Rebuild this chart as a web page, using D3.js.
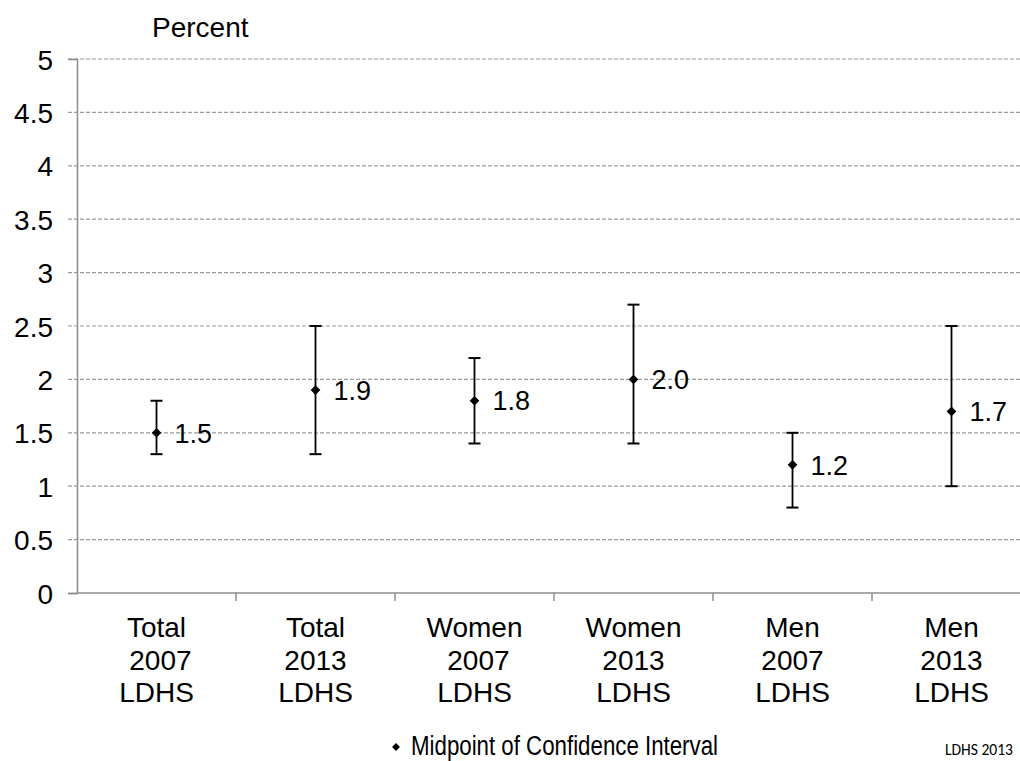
<!DOCTYPE html>
<html>
<head>
<meta charset="utf-8">
<script src="https://cdn.jsdelivr.net/npm/d3@7"></script>
<style>
  html, body { margin: 0; padding: 0; background: #fff; }
  svg { display: block; font-family: "Liberation Sans", Arial, sans-serif; }
</style>
</head>
<body>
<svg id="chart" width="1020" height="761"></svg>
<script>
// Survey groups and their confidence intervals (percent)
const categories = ["Total\n 2007\nLDHS", "Total\n2013\nLDHS", "Women\n 2007\nLDHS",
                    "Women\n2013\nLDHS", "Men\n2007\nLDHS", "Men\n2013\nLDHS"];
const midpoints = [1.5, 1.9, 1.8, 2.0, 1.2, 1.7];
const lowerBounds = [1.3, 1.3, 1.4, 1.4, 0.8, 1.0];
const upperBounds = [1.8, 2.5, 2.2, 2.7, 1.5, 2.5];
const midpointLabels = ["1.5", "1.9", "1.8", "2.0", "1.2", "1.7"];
const yTicks = [0, 0.5, 1, 1.5, 2, 2.5, 3, 3.5, 4, 4.5, 5];

const data = categories.map((c, i) => ({
  cat: c, mid: midpoints[i], lo: lowerBounds[i], hi: upperBounds[i], label: midpointLabels[i]
}));

const svg = d3.select("#chart");
const plotLeft = 77, plotRight = 1031, plotTop = 59, plotBottom = 593;
const fontSize = 28;

const x = d3.scaleBand().domain(categories).range([plotLeft, plotRight]);
const y = d3.scaleLinear().domain([0, 5]).range([plotBottom, plotTop]);

// Dashed horizontal gridlines
svg.append("g").selectAll("line")
  .data(yTicks.filter(t => t > 0))
  .join("line")
  .attr("x1", plotLeft - 9).attr("x2", 1020)
  .attr("y1", d => y(d)).attr("y2", d => y(d))
  .attr("stroke", "#9a9a9a").attr("stroke-width", 1.2)
  .attr("stroke-dasharray", "4,2");

// Y axis
const yAxis = svg.append("g")
  .attr("transform", `translate(${plotLeft},0)`)
  .call(d3.axisLeft(y).tickValues(yTicks).tickSize(9).tickPadding(15)
        .tickFormat(d => String(d)));
yAxis.select(".domain").attr("stroke", "#8c8c8c").attr("stroke-width", 1.5);
yAxis.selectAll(".tick line").attr("stroke", d => d === 0 ? "#8c8c8c" : "none")
  .attr("stroke-width", 1.5);
yAxis.selectAll(".tick text")
  .attr("font-size", fontSize).attr("fill", "#000")
  .attr("font-family", "Liberation Sans, Arial, sans-serif")
  .attr("dy", "0.36em");

// X baseline and category separators
svg.append("line")
  .attr("x1", plotLeft).attr("x2", 1020)
  .attr("y1", y(0)).attr("y2", y(0))
  .attr("stroke", "#8c8c8c").attr("stroke-width", 1.5);
svg.append("g").selectAll("line")
  .data(categories.slice(1))
  .join("line")
  .attr("x1", d => x(d)).attr("x2", d => x(d))
  .attr("y1", y(0)).attr("y2", y(0) + 8)
  .attr("stroke", "#8c8c8c").attr("stroke-width", 1.5);

// Category labels (three lines each)
const catText = svg.append("g").selectAll("text")
  .data(categories)
  .join("text")
  .attr("text-anchor", "middle")
  .attr("font-size", fontSize)
  .attr("fill", "#000")
  .style("white-space", "pre");
catText.each(function(d) {
  const cx = x(d) + x.bandwidth() / 2;
  d.split("\n").forEach((line, i) => {
    d3.select(this).append("tspan")
      .attr("x", cx)
      .attr("y", 637 + i * 32.5)
      .text(line);
  });
});

// Axis title
svg.append("text")
  .attr("x", 152).attr("y", 37)
  .attr("font-size", fontSize).attr("fill", "#000")
  .text("Percent");

// Confidence interval bars
const cap = 6;
const bars = svg.append("g").selectAll("g")
  .data(data)
  .join("g")
  .attr("transform", d => `translate(${x(d.cat) + x.bandwidth() / 2},0)`);

bars.append("line")
  .attr("x1", 0).attr("x2", 0)
  .attr("y1", d => y(d.lo)).attr("y2", d => y(d.hi))
  .attr("stroke", "#000").attr("stroke-width", 1.8);
bars.append("line")
  .attr("x1", -cap).attr("x2", cap)
  .attr("y1", d => y(d.hi)).attr("y2", d => y(d.hi))
  .attr("stroke", "#000").attr("stroke-width", 2);
bars.append("line")
  .attr("x1", -cap).attr("x2", cap)
  .attr("y1", d => y(d.lo)).attr("y2", d => y(d.lo))
  .attr("stroke", "#000").attr("stroke-width", 2);

// Midpoint markers
const diamond = d3.symbol().type(d3.symbolDiamond2).size(60);
bars.append("path")
  .attr("d", diamond)
  .attr("transform", d => `translate(0,${y(d.mid)})`)
  .attr("fill", "#000");

// Midpoint value labels
bars.append("text")
  .attr("x", 18)
  .attr("y", d => y(d.mid))
  .attr("dy", "0.36em")
  .attr("font-size", 27)
  .attr("fill", "#000")
  .text(d => d.label);

// Legend (condensed lettering)
svg.append("path")
  .attr("d", d3.symbol().type(d3.symbolDiamond2).size(40))
  .attr("transform", "translate(396,747)")
  .attr("fill", "#000");
svg.append("text")
  .attr("x", 411).attr("y", 755)
  .attr("font-size", 27).attr("fill", "#000")
  .attr("textLength", 307)
  .attr("lengthAdjust", "spacingAndGlyphs")
  .text("Midpoint of Confidence Interval");

// Source note
svg.append("text")
  .attr("x", 945).attr("y", 755)
  .attr("font-size", 17).attr("fill", "#000")
  .attr("font-family", "Carlito, 'Open Sans', 'Noto Sans', sans-serif")
  .attr("textLength", 68)
  .attr("lengthAdjust", "spacingAndGlyphs")
  .text("LDHS 2013");
</script>
</body>
</html>
